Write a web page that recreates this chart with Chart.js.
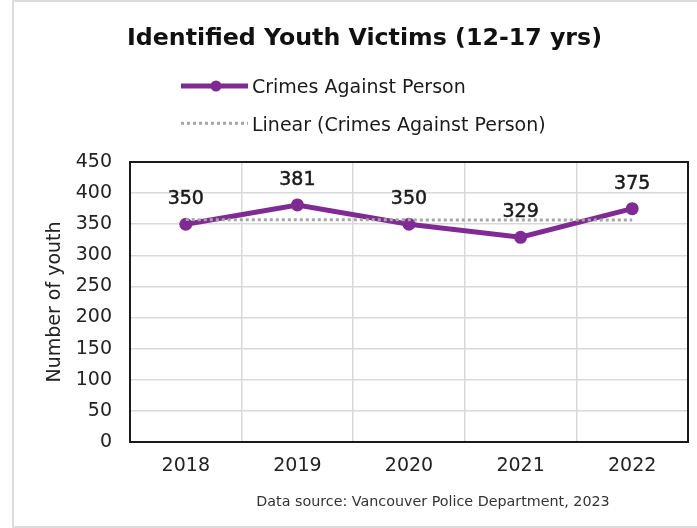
<!DOCTYPE html>
<html><head><meta charset="utf-8">
<script src="https://cdn.jsdelivr.net/npm/chart.js@4"></script>
<style>html,body{margin:0;padding:0;background:#fff}canvas{display:block}</style>
</head><body>
<canvas id="c" width="697" height="528"></canvas>
<script>
const years = ['2018', '2019', '2020', '2021', '2022'];
const crimesAgainstPerson = [350, 381, 350, 329, 375];
const linearTrend = [357.4, 357.2, 357.0, 356.8, 356.6];
const yTickMin = 0;
const yTickMax = 450;
const yTickStep = 50;
const chartTitle = 'Identified Youth Victims (12-17 yrs)';
const seriesName = 'Crimes Against Person';
const trendName = 'Linear (Crimes Against Person)';
const yAxisTitle = 'Number of youth';
const sourceNote = 'Data source: Vancouver Police Department, 2023';

const FONT = '"DejaVu Sans", sans-serif';
const PURPLE = '#7f2b93';
const GRAY_DOT = '#a6a6a6';
const TEXT = '#1a1a1a';
const GRID = '#d9d9d9';

const decor = {
  id: 'decor',
  beforeDraw(chart) {
    const ctx = chart.ctx;
    ctx.save();
    ctx.fillStyle = '#fff';
    ctx.fillRect(0, 0, chart.width, chart.height);
    ctx.fillStyle = '#dcdcdc';
    ctx.fillRect(12, 0, chart.width - 12, 2);
    ctx.fillRect(12, 0, 2, chart.height);
    ctx.fillRect(12, 526, chart.width - 12, 2);
    ctx.restore();
  },
  beforeDatasetsDraw(chart) {
    const {ctx, chartArea: a} = chart;
    ctx.save();
    ctx.strokeStyle = '#1a1a1a';
    ctx.lineWidth = 2;
    ctx.strokeRect(a.left, a.top, a.right - a.left, a.bottom - a.top);
    ctx.restore();
  },
  afterDatasetsDraw(chart) {
    const ctx = chart.ctx;
    const meta = chart.getDatasetMeta(1);
    ctx.save();
    ctx.font = '19px ' + FONT;
    ctx.fillStyle = TEXT;
    ctx.strokeStyle = TEXT;
    ctx.lineWidth = 0.5;
    ctx.textAlign = 'center';
    ctx.textBaseline = 'alphabetic';
    meta.data.forEach((pt, i) => {
      const t = String(crimesAgainstPerson[i]);
      ctx.fillText(t, pt.x, pt.y - 20);
      ctx.strokeText(t, pt.x, pt.y - 20);
    });
    ctx.restore();
  },
  afterDraw(chart) {
    const ctx = chart.ctx;
    ctx.save();
    ctx.font = 'bold 23.7px ' + FONT;
    ctx.fillStyle = '#111';
    ctx.textAlign = 'center';
    ctx.textBaseline = 'alphabetic';
    ctx.fillText(chartTitle, 364.5, 45);

    ctx.font = '19px ' + FONT;
    ctx.textAlign = 'left';
    // legend row 1
    ctx.strokeStyle = PURPLE; ctx.lineWidth = 5; ctx.lineCap = 'butt';
    ctx.beginPath(); ctx.moveTo(181, 86); ctx.lineTo(248, 86); ctx.stroke();
    ctx.fillStyle = PURPLE;
    ctx.beginPath(); ctx.arc(216, 86, 5.5, 0, 2 * Math.PI); ctx.fill();
    ctx.fillStyle = TEXT;
    ctx.fillText(seriesName, 252, 93.3);
    // legend row 2
    ctx.strokeStyle = GRAY_DOT; ctx.lineWidth = 3; ctx.setLineDash([3, 3]);
    ctx.beginPath(); ctx.moveTo(181, 123.3); ctx.lineTo(248, 123.3); ctx.stroke();
    ctx.setLineDash([]);
    ctx.fillText(trendName, 252, 130.5);

    ctx.font = '14.3px ' + FONT;
    ctx.fillStyle = '#333';
    ctx.textAlign = 'center';
    ctx.fillText(sourceNote, 433, 506);
    ctx.restore();
  }
};

new Chart(document.getElementById('c'), {
  type: 'line',
  data: {
    labels: years,
    datasets: [
      {
        label: trendName,
        data: linearTrend,
        borderColor: GRAY_DOT,
        borderWidth: 3,
        borderDash: [3, 3],
        pointRadius: 0,
        fill: false,
        tension: 0
      },
      {
        label: seriesName,
        data: crimesAgainstPerson,
        borderColor: PURPLE,
        backgroundColor: PURPLE,
        borderWidth: 5,
        pointRadius: 6.5,
        pointBackgroundColor: PURPLE,
        pointBorderColor: PURPLE,
        pointBorderWidth: 0,
        fill: false,
        tension: 0
      }
    ]
  },
  options: {
    responsive: false,
    animation: false,
    devicePixelRatio: 1,
    layout: { padding: { top: 162, right: 9, bottom: 0, left: 0 } },
    plugins: {
      legend: { display: false },
      title: { display: false },
      tooltip: { enabled: false }
    },
    scales: {
      x: {
        offset: true,
        grid: { offset: true, color: GRID, lineWidth: 1.5, drawTicks: false },
        border: { display: false },
        ticks: { padding: 13, color: '#222', font: { family: FONT, size: 19 } },
        afterFit(s) { s.height = 86; }
      },
      y: {
        min: yTickMin,
        max: yTickMax,
        grid: { color: GRID, lineWidth: 1.5, drawTicks: false },
        border: { display: false },
        ticks: { stepSize: yTickStep, padding: 18, color: '#222', font: { family: FONT, size: 19 } },
        title: {
          display: true,
          text: yAxisTitle,
          color: '#222',
          font: { family: FONT, size: 19 },
          padding: { top: 44, bottom: 0 }
        },
        afterFit(s) { s.width = 130; }
      }
    }
  },
  plugins: [decor]
});
</script>
</body></html>
